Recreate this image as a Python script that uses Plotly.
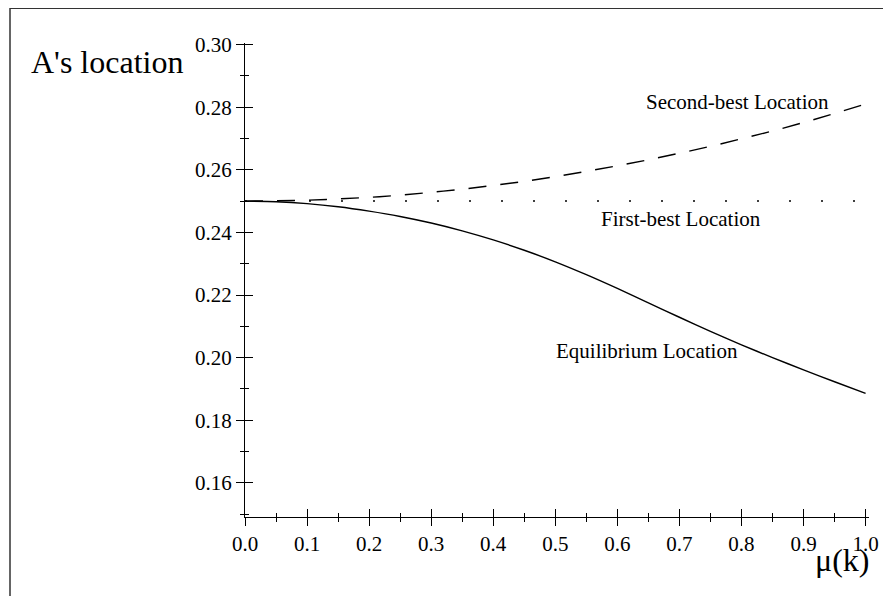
import plotly.graph_objects as go

# ---- data ----
mu = [0.00, 0.05, 0.10, 0.15, 0.20, 0.25, 0.30, 0.35, 0.40, 0.45, 0.50,
      0.55, 0.60, 0.65, 0.70, 0.75, 0.80, 0.85, 0.90, 0.95, 1.00]
equilibrium = [0.2500, 0.2498, 0.2492, 0.2482, 0.2468, 0.2451, 0.2430, 0.2405,
               0.2376, 0.2343, 0.2306, 0.2265, 0.2221, 0.2175, 0.2129, 0.2084,
               0.2041, 0.2000, 0.1961, 0.1923, 0.1886]
second_best = [0.2500, 0.2501, 0.2503, 0.2507, 0.2512, 0.2519, 0.2528, 0.2538,
               0.2550, 0.2563, 0.2578, 0.2595, 0.2613, 0.2632, 0.2653, 0.2675,
               0.2699, 0.2724, 0.2751, 0.2780, 0.2810]
first_best_x = [0.0, 1.0]
first_best = [0.25, 0.25]

x_ticks = [0.0, 0.1, 0.2, 0.3, 0.4, 0.5, 0.6, 0.7, 0.8, 0.9, 1.0]
y_ticks = [0.16, 0.18, 0.20, 0.22, 0.24, 0.26, 0.28, 0.30]

FONT = "Liberation Serif, Times New Roman, serif"
X_RANGE = [0.0, 1.0055]
Y_RANGE = [0.1491, 0.3005]

fig = go.Figure()
fig.add_trace(go.Scatter(x=mu, y=equilibrium, mode="lines", line_shape="spline",
                         line=dict(color="black", width=1.4, smoothing=0.8),
                         showlegend=False))
fig.add_trace(go.Scatter(x=mu, y=second_best, mode="lines", line_shape="spline",
                         line=dict(color="black", width=1.4, dash="18px,14px"),
                         showlegend=False))
fig.add_trace(go.Scatter(x=first_best_x, y=first_best, mode="lines",
                         xaxis="x2", yaxis="y2",
                         line=dict(color="black", width=1.5, dash="2px,30px"),
                         showlegend=False))

common_x = dict(range=X_RANGE, tickvals=x_ticks, tickformat=".1f",
                tickcolor="black", tickwidth=1.3, showgrid=False, zeroline=False)
common_y = dict(range=Y_RANGE, tickvals=y_ticks, tickformat=".2f",
                tickcolor="black", tickwidth=1.3, showgrid=False, zeroline=False)

fig.update_layout(
    width=883, height=588,
    margin=dict(l=237, r=19.3, t=35.3, b=79.3),
    paper_bgcolor="white", plot_bgcolor="white",
    font=dict(family=FONT, size=21, color="black"),
    xaxis=dict(**common_x, ticks="outside", ticklen=8, showline=True,
               linecolor="black", linewidth=1.3,
               tickfont=dict(family=FONT, size=21, color="black"),
               minor=dict(ticks="outside", ticklen=4, dtick=0.05, tick0=0,
                          tickcolor="black", tickwidth=1.2)),
    yaxis=dict(**common_y, ticks="outside", ticklen=8, showline=True,
               linecolor="black", linewidth=1.3,
               tickfont=dict(family=FONT, size=21, color="black"),
               minor=dict(ticks="outside", ticklen=4, dtick=0.01, tick0=0.15,
                          tickcolor="black", tickwidth=1.2)),
    xaxis2=dict(**common_x, overlaying="x", anchor="y2", ticks="inside", ticklen=8,
                showticklabels=False, showline=False,
                minor=dict(ticks="inside", ticklen=4, dtick=0.05, tick0=0,
                           tickcolor="black", tickwidth=1.2)),
    yaxis2=dict(**common_y, overlaying="y", anchor="x2", ticks="inside", ticklen=8,
                showticklabels=False, showline=False,
                minor=dict(ticks="inside", ticklen=4, dtick=0.01, tick0=0.15,
                           tickcolor="black", tickwidth=1.2)),
    shapes=[dict(type="rect", xref="paper", yref="paper",
                 x0=-0.3766, y0=-1.0, x1=2.0, y1=1.0735,
                 line=dict(color="#333333", width=1.5), layer="below")],
    annotations=[
        dict(text="A's location", xref="paper", yref="paper", x=-0.3463, y=0.9605,
             xanchor="left", yanchor="middle", showarrow=False,
             font=dict(family=FONT, size=32, color="black")),
        dict(text="μ(k)", xref="paper", yref="paper", x=0.9575, y=-0.0898,
             xanchor="center", yanchor="middle", showarrow=False,
             font=dict(family=FONT, size=32, color="black")),
        dict(text="Second-best Location", x=0.794, y=0.2815, xref="x", yref="y",
             xanchor="center", yanchor="middle", showarrow=False,
             font=dict(family=FONT, size=21, color="black")),
        dict(text="First-best Location", x=0.703, y=0.2442, xref="x", yref="y",
             xanchor="center", yanchor="middle", showarrow=False,
             font=dict(family=FONT, size=21, color="black")),
        dict(text="Equilibrium Location", x=0.648, y=0.2021, xref="x", yref="y",
             xanchor="center", yanchor="middle", showarrow=False,
             font=dict(family=FONT, size=21, color="black")),
    ],
)

fig.write_html("out.html")
